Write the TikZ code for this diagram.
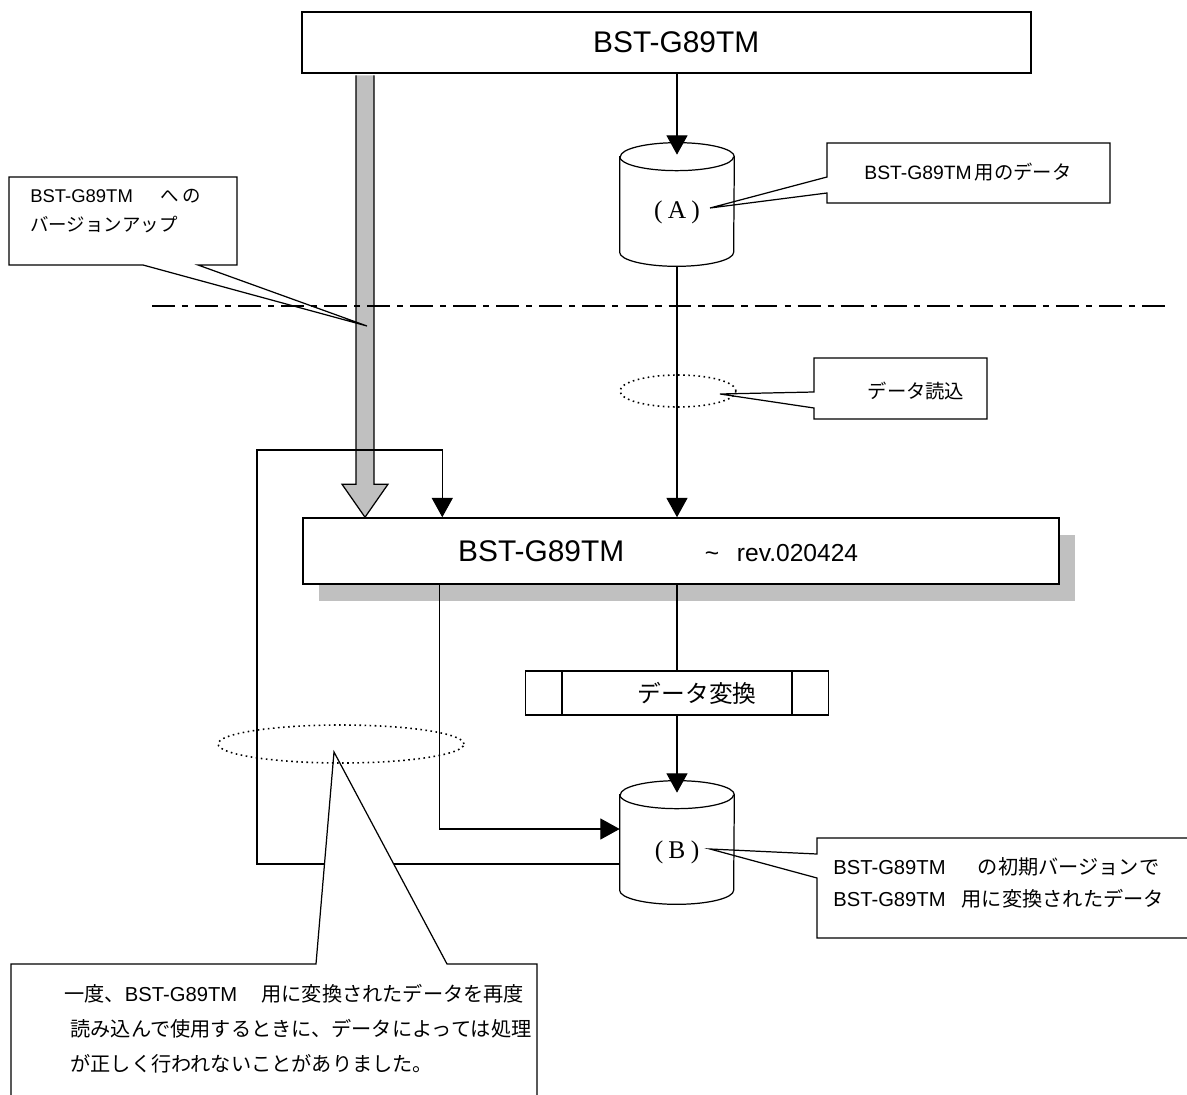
\documentclass[tikz,border=0pt]{standalone}
\usepackage{fontspec}
\setmainfont{Liberation Sans}
\newfontfamily\jpf{Noto Sans CJK JP}
\newfontfamily\serf{Liberation Serif}
\usetikzlibrary{arrows.meta, positioning, calc, shapes.geometric, shadows}
\definecolor{shade}{RGB}{192,192,192}

\begin{document}
\begin{tikzpicture}[x=0.02cm, y=-0.02cm,
  box/.style={draw, rectangle, inner sep=0pt, fill=white},
  db/.style={rectangle, inner sep=0pt, minimum width=2.28cm, minimum height=2.46cm},
  arr/.style={line width=0.6pt, -{Triangle[length=11pt,width=12pt]}},
  wire/.style={line width=0.6pt},
  calltext/.style={align=left, inner sep=0pt},
  balloon/.style={draw, line width=0.7pt},
  ring/.style={draw, ellipse, dotted, line width=0.9pt, inner sep=0pt}
]
\useasboundingbox (0,0) rectangle (1187,1095);

% Program boxes
\node[box, line width=1.5pt, minimum width=14.58cm, minimum height=1.22cm,
      font=\fontsize{17}{20}\selectfont] (top) at (666.5,42.5) {\hspace*{11pt}BST-G89TM};
\node[box, line width=0.9pt, minimum width=15.12cm, minimum height=1.32cm,
      general shadow={fill=shade, shadow xshift=0.32cm, shadow yshift=-0.34cm},
      font=\fontsize{17}{20}\selectfont] (mid) at (681,551)
      {BST-G89TM\hspace{46pt}{\fontsize{14}{16}\selectfont\textasciitilde\hspace{10pt}rev.020424}\hspace*{26pt}};

% Conversion process
\node[box, line width=0.7pt, minimum width=6.06cm, minimum height=0.88cm,
      font=\jpf\fontsize{13.5}{16}\selectfont] (conv) at (677,693) {\hspace*{23pt}データ変換};
\draw[line width=0.7pt] ($(conv.north west)+(37,0)$) -- ($(conv.south west)+(37,0)$);
\draw[line width=0.7pt] ($(conv.north east)+(-37,0)$) -- ($(conv.south east)+(-37,0)$);

% Data stores
\node[db] (dbA) at (677,204.5) {};
\node[db] (dbB) at (677,842.5) {};
\foreach \n in {dbA, dbB} {
  \draw[line width=0.7pt, fill=white] ($(\n.north west)+(0,14)$) -- ($(\n.south west)+(0,-14)$)
    arc[start angle=180, end angle=360, x radius=1.14cm, y radius=0.28cm]
    -- ($(\n.north east)+(0,14)$)
    arc[start angle=0, end angle=180, x radius=1.14cm, y radius=0.28cm] -- cycle;
  \draw[line width=0.7pt] ($(\n.north west)+(0,14)$)
    arc[start angle=180, end angle=360, x radius=1.14cm, y radius=0.28cm];
}
\node[font=\serf\fontsize{14.5}{16}\selectfont] (labA) at (677,212) {(\hspace{3pt}A\hspace{3pt})};
\node[font=\serf\fontsize{14.5}{16}\selectfont] (labB) at (677,852) {(\hspace{3pt}B\hspace{3pt})};

% Version-up arrow
\coordinate (gx) at (365,0);
\coordinate (gs) at (top.south -| gx);
\coordinate (ge) at (mid.north -| gx);
\draw[line width=0.7pt, fill=shade] ($(gs)+(-9,1)$) -- ($(ge)+(-9,-33)$) -- ($(ge)+(-23,-33)$)
  -- (ge) -- ($(ge)+(23,-33)$) -- ($(ge)+(9,-33)$) -- ($(gs)+(9,1)$);

% Data flow
\draw[arr] (top.south -| dbA.north) -- ($(dbA.north)+(0,12)$);
\draw[arr] (dbA.south) -- (dbA.south |- mid.north);
\draw[wire] (mid.south -| conv.north) -- (conv.north);
\draw[arr] (conv.south) -- ($(dbB.north)+(0,12)$);
\draw[arr] ($(mid.south west)+(137,0)$) |- ($(dbB.west)+(0,-13.5)$);
\coordinate (loopc) at (257,450);
\draw[arr] ($(dbB.west)+(0,21.5)$) -| (loopc) -| ($(mid.north west)+(140,0)$);

% Boundary
\draw[line width=1.1pt, dash pattern=on 13pt off 4pt on 3.5pt off 4pt] (152,306) -- (1170,306);

% Callouts
\coordinate (tipU) at (367,326);
\draw[balloon] (143,265) -- (9,265) -- (9,177) -- (237,177) -- (237,265) -- (198,265) -- (tipU) -- cycle;
\node[calltext, anchor=west, font=\fontsize{10.5}{16.5}\selectfont] (tU) at (30,211.5)
  {BST-G89TM\hspace{1.5em}{\jpf へ\hspace{0.2em}の}\\{\jpf バージョンアップ}};

\coordinate (tipA) at (710,208);
\draw[balloon] (827,177) -- (827,143) -- (1110,143) -- (1110,203) -- (827,203) -- (827,193) -- (tipA) -- cycle;
\node[calltext, font=\fontsize{11}{13}\selectfont] (tA) at (968,172) {BST-G89TM\,{\jpf 用のデータ}};

\node[ring, minimum width=2.32cm, minimum height=0.64cm] (ringR) at (678,391) {};
\coordinate (tipR) at (720,394);
\draw[balloon] (814,392) -- (814,358) -- (987,358) -- (987,419) -- (814,419) -- (814,408) -- (tipR) -- cycle;
\node[calltext, font=\jpf\fontsize{11}{13}\selectfont] (tR) at (916,391) {データ読込};

\coordinate (tipB) at (710,849);
\draw[balloon] (1190,838) -- (817,838) -- (817,854) -- (tipB) -- (817,878) -- (817,938) -- (1190,938);
\node[calltext, anchor=west, font=\fontsize{11.5}{18}\selectfont] (tB) at (833,883)
  {BST-G89TM\hspace{1.6em}{\jpf の初期バージョンで}\\BST-G89TM\hspace{0.8em}{\jpf 用に変換されたデータ}};

\coordinate (tipL) at (334,752);
\draw[balloon, fill=white] (316,964) -- (11,964) -- (11,1097) -- (537,1097) -- (537,964) -- (447,964) -- (tipL) -- cycle;
\node[calltext, anchor=west, font=\fontsize{11.5}{19.8}\selectfont] (tL) at (64,1029)
  {{\jpf 一度、}BST-G89TM\hspace{1.2em}{\jpf 用に変換されたデータを再度}\\
   \hspace*{0.3em}{\jpf 読み込んで使用するときに、データによっては処理}\\
   \hspace*{0.3em}{\jpf が正しく行われないことがありました。}};
\node[ring, minimum width=4.92cm, minimum height=0.76cm] (ringL) at (341,744) {};
\end{tikzpicture}
\end{document}
